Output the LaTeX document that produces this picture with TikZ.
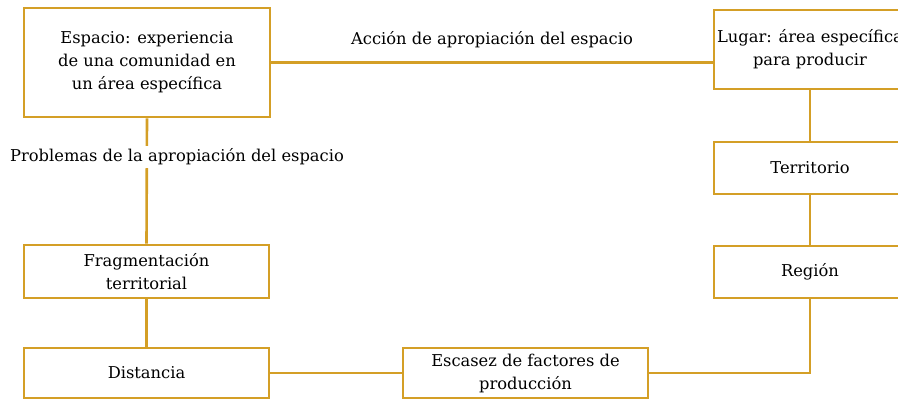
\documentclass[tikz,border=0pt]{standalone}
\usepackage{fontspec}
\setmainfont{DejaVu Serif}
\definecolor{gold}{HTML}{D49F26}
\begin{document}
\begin{tikzpicture}[x=1pt,y=-1pt,
  box/.style={draw=gold,line width=2.6pt,align=center,inner sep=0pt,font=\fontsize{16.3}{23}\selectfont},
  conn/.style={draw=gold,line width=2.6pt},
  lbl/.style={font=\fontsize{16.3}{23}\selectfont,inner sep=1pt}]
\useasboundingbox (0,0) rectangle (898,400);
\node[box,minimum width=246pt,minimum height=109pt] (esp) at (147,62.5) {Espacio: experiencia\\de una comunidad en\\un área específica};
\node[box,minimum width=192pt,minimum height=79pt] (lug) at (810,49.5) {Lugar: área específica\\para producir};
\node[box,minimum width=192pt,minimum height=52pt] (ter) at (810,168) {Territorio};
\node[box,minimum width=192pt,minimum height=52pt] (reg) at (810,272) {Región};
\node[box,minimum width=245pt,minimum height=53pt] (frag) at (146.5,271.5) {Fragmentación\\territorial};
\node[box,minimum width=245pt,minimum height=50pt] (dist) at (146.5,373) {Distancia};
\node[box,minimum width=245pt,minimum height=50pt] (esc) at (525.5,373) {Escasez de factores de\\producción};
\draw[conn] (esp.east) -- (esp.east -| lug.west);
\node[lbl] (acc) at (492,40) {Acción de apropiación del espacio};
\draw[conn] (esp.south) -- (frag.north);
\node[lbl,fill=white,inner ysep=3pt] (prob) at (177,157) {Problemas de la apropiación del espacio};
\draw[conn] (lug.south) -- (ter.north);
\draw[conn] (ter.south) -- (reg.north);
\draw[conn] (frag.south) -- (dist.north);
\draw[conn] (dist.east) -- (esc.west);
\draw[conn] (reg.south) -- (reg.south |- esc.east) -- (esc.east);
\end{tikzpicture}
\end{document}
